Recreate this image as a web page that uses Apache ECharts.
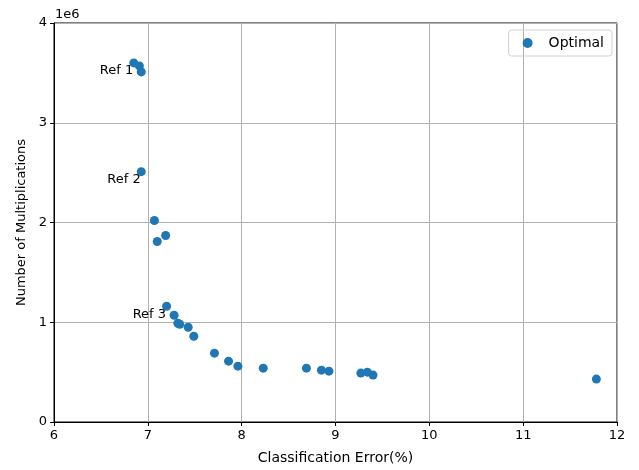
<!DOCTYPE html>
<html>
<head>
<meta charset="utf-8">
<script src="https://cdn.jsdelivr.net/npm/echarts@6/dist/echarts.min.js"></script>
<style>
  html, body { margin: 0; padding: 0; background: #fff; }
  #chart { width: 639px; height: 470px; }
</style>
</head>
<body>
<div id="chart"></div>
<script>
// classification error (%) and multiplications
const errors = [6.85, 6.91, 6.93, 6.93, 7.07, 7.10, 7.19, 7.20, 7.28, 7.32, 7.34, 7.43, 7.49,
  7.71, 7.86, 7.96, 8.23, 8.69, 8.85, 8.93, 9.27, 9.34, 9.40, 11.78];
const mults = [3.60e6, 3.57e6, 3.51e6, 2.51e6, 2.02e6, 1.81e6, 1.87e6, 1.16e6, 1.07e6, 0.99e6, 0.98e6, 0.95e6, 0.86e6,
  0.69e6, 0.61e6, 0.56e6, 0.54e6, 0.54e6, 0.52e6, 0.51e6, 0.49e6, 0.50e6, 0.47e6, 0.43e6];
const refNames = ['Ref 1', 'Ref 2', 'Ref 3'];
const refIndex = [0, 3, 7];

const blue = '#1f77b4';
const font = 'DejaVu Sans';

const points = errors.map((e, i) => {
  const item = { value: [e, mults[i]] };
  const k = refIndex.indexOf(i);
  if (k >= 0) {
    item.label = {
      show: true,
      formatter: refNames[k],
      position: [4, 6],
      align: 'right',
      verticalAlign: 'top',
      color: '#000',
      fontFamily: font,
      fontSize: 13
    };
  }
  return item;
});

const chart = echarts.init(document.getElementById('chart'));
const option = {
  animation: false,
  textStyle: { fontFamily: font },
  grid: {
    left: 54, right: 22, top: 23, bottom: 47,
    show: true, borderColor: '#000', borderWidth: 1
  },
  legend: {
    data: [{ name: 'Optimal', icon: 'circle' }],
    right: 27, top: 30,
    itemWidth: 10, itemHeight: 10,
    padding: [6, 8, 6, 14],
    borderColor: '#d0d0d0', borderWidth: 1, borderRadius: 3,
    textStyle: { fontSize: 14, color: '#000', fontFamily: font, padding: [0, 0, 0, 11] }
  },
  graphic: [{
    type: 'text', left: 55, top: 8,
    style: { text: '1e6', fontSize: 13, fill: '#000', fontFamily: font }
  }],
  xAxis: {
    type: 'value', min: 6, max: 12, interval: 1,
    name: 'Classification Error(%)', nameLocation: 'middle', nameGap: 29,
    nameTextStyle: { fontSize: 14, color: '#000', fontFamily: font },
    axisLine: { lineStyle: { color: '#000' } },
    axisTick: { length: 4, lineStyle: { color: '#000' } },
    axisLabel: { fontSize: 13, color: '#000', margin: 7 },
    splitLine: { lineStyle: { color: '#b0b0b0' } }
  },
  yAxis: {
    type: 'value', min: 0, max: 4e6, interval: 1e6,
    name: 'Number of Multiplications', nameLocation: 'middle', nameGap: 26,
    nameTextStyle: { fontSize: 13, color: '#000', fontFamily: font },
    axisLine: { show: true, lineStyle: { color: '#000' } },
    axisTick: { show: true, length: 4, lineStyle: { color: '#000' } },
    axisLabel: { fontSize: 13, color: '#000', margin: 7, formatter: v => String(v / 1e6) },
    splitLine: { lineStyle: { color: '#b0b0b0' } }
  },
  series: [{
    name: 'Optimal',
    type: 'scatter',
    symbolSize: 9,
    itemStyle: { color: blue, opacity: 1 },
    data: points
  }]
};
chart.setOption(option);
</script>
</body>
</html>
